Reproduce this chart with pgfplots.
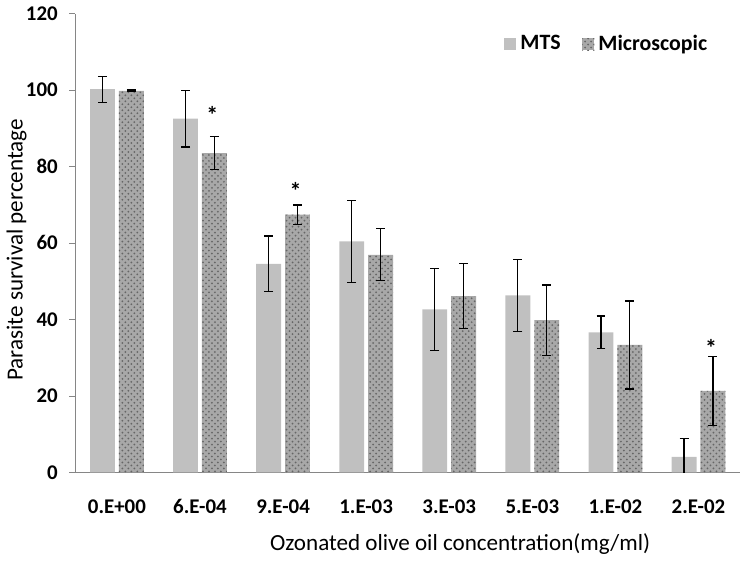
\documentclass[border=0pt]{standalone}
\usepackage{pgfplots}
\pgfplotsset{compat=1.18}
\usepackage{fontspec}
\setmainfont{Carlito}
\usetikzlibrary{patterns}
\definecolor{mtsgray}{HTML}{C0C0C0}
\definecolor{micgray}{HTML}{A8A8A8}
\definecolor{micdot}{HTML}{666666}
\definecolor{axgray}{HTML}{868686}
\begin{document}
\begin{tikzpicture}
\begin{axis}[
  scale only axis,
  width=334pt, height=230.5pt,
  ybar, bar width=12.5pt, bar shift auto,
  xmin=-0.5, xmax=7.5,
  ymin=0, ymax=120,
  ytick={0,20,...,120},
  xtick={0,...,7},
  xticklabels={0.E+00,6.E-04,9.E-04,1.E-03,3.E-03,5.E-03,1.E-02,2.E-02},
  major x tick style={draw=none},
  extra x ticks={-0.5,0.5,1.5,2.5,3.5,4.5,5.5,6.5},
  extra x tick labels={},
  extra x tick style={tick style={draw=axgray}, major tick length=4pt, tick pos=bottom, xtick align=outside},
  axis x line*=bottom, axis y line*=left,
  axis line style={draw=axgray, line width=0.6pt},
  y axis line style={-}, x axis line style={-},
  ytick align=outside, major tick length=3pt,
  ytick style={draw=axgray},
  tick label style={font=\fontsize{10.5}{12}\selectfont\bfseries},
  /pgf/number format/assume math mode=true,
  yticklabel style={xshift=-2.3pt},
  xticklabel style={anchor=base, yshift=-17.5pt},
  ylabel={Parasite survival percentage},
  xlabel={Ozonated olive oil concentration(mg/ml)},
  label style={font=\fontsize{11.6}{13}\selectfont},
  ylabel style={at={(axis description cs:0,0.485)}, anchor=center, yshift=29.5pt},
  xlabel style={at={(axis description cs:0.579,0)}, anchor=center, yshift=-36pt},
  legend style={draw=none, fill=none, at={(0.636,0.933)}, anchor=west,
    font=\fontsize{11}{12}\selectfont\bfseries, legend columns=2,
    /tikz/every even column/.append style={column sep=9pt}},
  legend image code/.code={\draw[#1, draw=none] (0pt,-3pt) rectangle (6pt,3pt);},
  error bars/y dir=both, error bars/y explicit,
  error bars/error bar style={black, line width=0.6pt},
  error bars/error mark options={black, line width=0.6pt, mark size=2.25pt, rotate=90},
]
\addplot[fill=mtsgray, draw=none] coordinates {
  (0,100.2) +- (0,3.4)
  (1,92.5) +- (0,7.4)
  (2,54.5) +- (0,7.3)
  (3,60.4) +- (0,10.8)
  (4,42.6) +- (0,10.7)
  (5,46.3) +- (0,9.4)
  (6,36.6) +- (0,4.3)
  (7,4.0) +- (0,4.9)
};
\addplot[fill=micgray, draw=none, postaction={pattern=crosshatch dots, pattern color=micdot}] coordinates {
  (0,99.8) +- (0,0.2)
  (1,83.5) +- (0,4.4)
  (2,67.4) +- (0,2.5)
  (3,56.9) +- (0,6.8)
  (4,46.1) +- (0,8.5)
  (5,39.8) +- (0,9.2)
  (6,33.3) +- (0,11.5)
  (7,21.3) +- (0,9.0)
};
\legend{MTS, Microscopic}
\node[font=\fontsize{12}{12}\selectfont\bfseries] at (axis cs:1.15,93.5) {*};
\node[font=\fontsize{12}{12}\selectfont\bfseries] at (axis cs:2.15,73.5) {*};
\node[font=\fontsize{12}{12}\selectfont\bfseries] at (axis cs:7.15,32.4) {*};
\path (rel axis cs:0,0) ++(-36pt,-42pt) coordinate (bbsw);
\path (rel axis cs:1,1) ++(3.5pt,6.5pt) coordinate (bbne);
\end{axis}
\path (bbsw) rectangle (bbne);
\end{tikzpicture}
\end{document}
